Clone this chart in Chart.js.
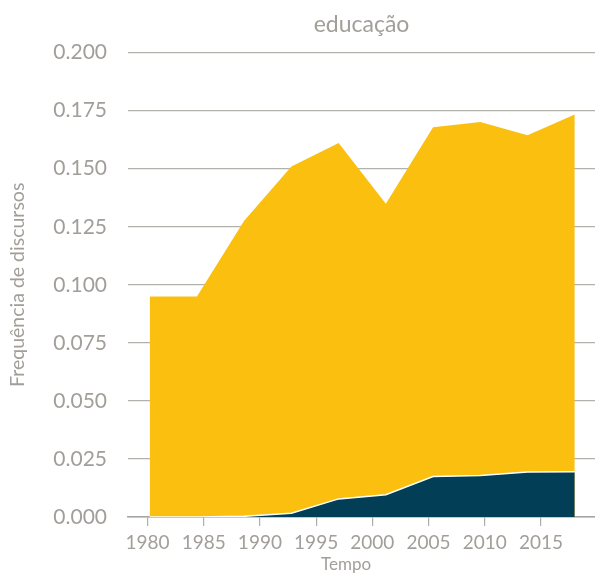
<!DOCTYPE html>
<html>
<head>
<meta charset="utf-8">
<script src="https://cdn.jsdelivr.net/npm/chart.js@4"></script>
<style>
  html, body { margin: 0; padding: 0; background: #fff; }
  #wrap { width: 595px; height: 576px; }
</style>
</head>
<body>
<div id="wrap"><canvas id="eduChart"></canvas></div>
<script>
// dados
const anos = [1980.2, 1984.4, 1988.6, 1992.8, 1997.0, 2001.2, 2005.4, 2009.6, 2013.8, 2018.0];
const totalEducacao = [0.0950, 0.0950, 0.1276, 0.1510, 0.1611, 0.1349, 0.1678, 0.1701, 0.1644, 0.1733];
const parteEscura = [0, 0, 0.0003, 0.0016, 0.0078, 0.0096, 0.0174, 0.0179, 0.0194, 0.0195];
const anosTicks = [1980, 1985, 1990, 1995, 2000, 2005, 2010, 2015];

const cinza = '#a29e99';
const fonte = 'Lato, "DejaVu Sans", sans-serif';

let ctx = document.getElementById('eduChart').getContext('2d');

// "Tempo" fica um pouco à esquerda do centro na referência
const tituloX = {
    id: 'tituloX',
    afterDraw(chart) {
        const c = chart.ctx;
        c.save();
        c.fillStyle = cinza;
        c.font = '17px ' + fonte;
        c.textAlign = 'center';
        c.textBaseline = 'middle';
        c.fillText('Tempo', 346, 565);
        c.restore();
    }
};

let eduChart = new Chart(ctx, {
    type: 'line',
    data: {
        datasets: [{
            label: 'parte escura',
            data: anos.map((a, i) => ({ x: a, y: parteEscura[i] })),
            backgroundColor: '#023e56',
            borderColor: '#ffffff',
            borderWidth: 1.5,
            fill: 'origin',
            pointRadius: 0,
            tension: 0
        }, {
            label: 'educação',
            data: anos.map((a, i) => ({ x: a, y: totalEducacao[i] })),
            backgroundColor: '#fbbf10',
            borderColor: '#fbbf10',
            borderWidth: 0,
            fill: 'origin',
            pointRadius: 0,
            tension: 0
        }]
    },
    options: {
        responsive: true,
        maintainAspectRatio: false,
        animation: false,
        layout: { padding: 0 },
        plugins: {
            legend: { display: false },
            tooltip: { enabled: false },
            title: {
                display: true,
                text: 'educação',
                color: cinza,
                fullSize: false,
                font: { family: fonte, size: 23, weight: 'normal' },
                padding: { top: 11, bottom: 14 }
            }
        },
        scales: {
            x: {
                type: 'linear',
                min: 1978.27,
                max: 2019.8,
                afterFit: s => { s.height = 59; },
                afterBuildTicks: s => { s.ticks = anosTicks.map(v => ({ value: v })); },
                grid: {
                    drawOnChartArea: false,
                    drawTicks: true,
                    tickLength: 9,
                    color: '#b0aeaa',
                    lineWidth: 1.2
                },
                border: { display: true, color: '#a8a6a2', width: 1.5 },
                ticks: {
                    color: cinza,
                    padding: 5,
                    font: { family: fonte, size: 19 },
                    maxRotation: 0,
                    callback: v => String(v)
                }
            },
            y: {
                min: 0,
                max: 0.2,
                afterFit: s => { s.width = 128; },
                grid: {
                    drawTicks: false,
                    color: '#b3b1ac',
                    lineWidth: 1.2
                },
                border: { display: false },
                ticks: {
                    stepSize: 0.025,
                    color: cinza,
                    padding: 21,
                    font: { family: fonte, size: 21 },
                    callback: v => v.toFixed(3)
                },
                title: {
                    display: true,
                    text: 'Frequência de discursos',
                    color: cinza,
                    font: { family: fonte, size: 19.5 },
                    padding: { top: 6, bottom: 0 }
                }
            }
        }
    },
    plugins: [tituloX]
});
</script>
</body>
</html>
